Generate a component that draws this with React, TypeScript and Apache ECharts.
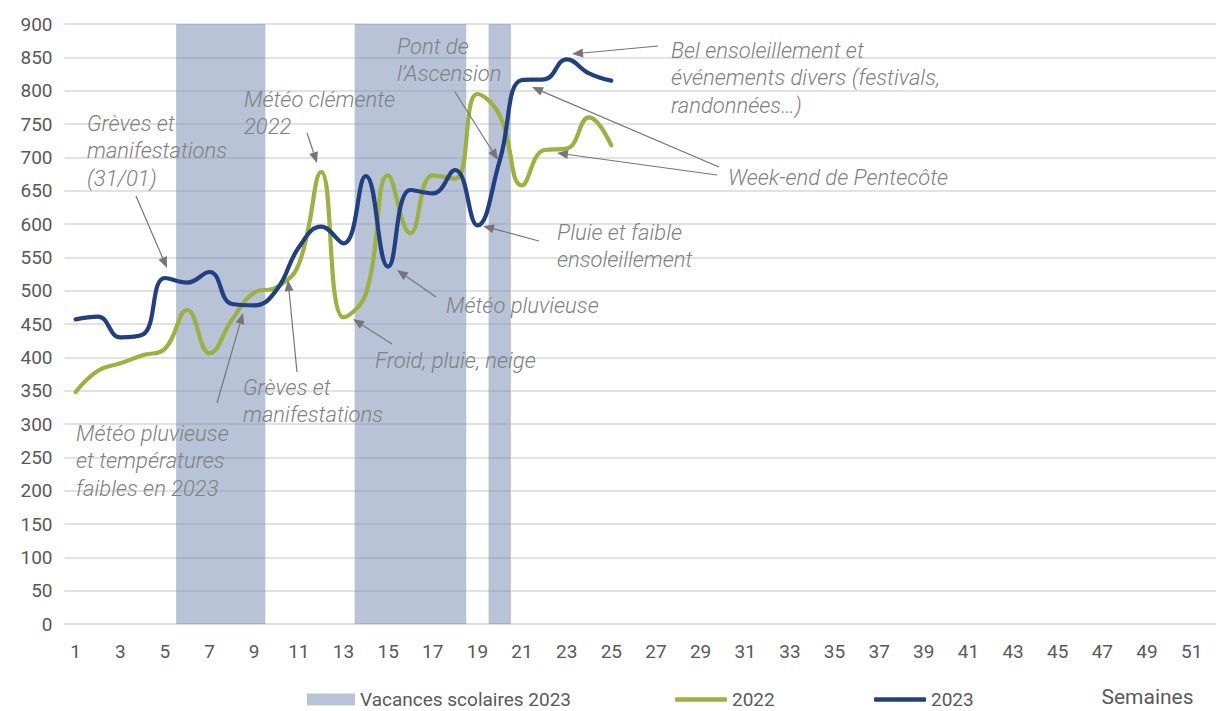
import React, { useEffect, useRef } from "react";
import * as echarts from "echarts";

// ---- Data ----
const weeks: string[] = Array.from({ length: 52 }, (_, i) => String(i + 1));
// school holiday periods 2023: [first week, last week]
const vacationPeriods: number[][] = [
  [6, 9],
  [14, 18],
  [20, 20],
];
const vacationLevel = 900;
const values2022 = [348, 380, 391, 403, 413, 471, 406, 456, 497, 505, 540, 678, 460, 495, 673, 586, 673, 668, 795, 763, 658, 711, 713, 760, 718];
const values2023 = [457, 461, 430, 434, 519, 512, 528, 480, 478, 501, 565, 596, 571, 672, 536, 651, 646, 681, 598, 695, 816, 817, 847, 826, 815];
const yMin = 0;
const yMax = 900;
const yStep = 50;
const seriesNames = ["Vacances scolaires 2023", "2022", "2023"];

// ---- Annotation layout (text first-line centre, arrows tail->head) ----
const notes: { lines: string[]; x: number; y: number; arrows: number[][] }[] = [
  { lines: ["Grèves et", "manifestations", "(31/01)"], x: 87, y: 123, arrows: [[136, 196, 167, 268]] },
  { lines: ["Météo clémente", "2022"], x: 244, y: 99, arrows: [[307, 133, 317, 163]] },
  { lines: ["Pont de", "l’Ascension"], x: 397, y: 46, arrows: [[455, 92, 498, 160]] },
  { lines: ["Bel ensoleillement et", "événements divers (festivals,", "randonnées…)"], x: 671, y: 50, arrows: [[658, 46, 572, 54]] },
  { lines: ["Week-end de Pentecôte"], x: 728, y: 177, arrows: [[719, 167, 532, 87], [717, 175, 557, 153]] },
  { lines: ["Pluie et faible", "ensoleillement"], x: 557, y: 232, arrows: [[539, 241, 483, 226]] },
  { lines: ["Météo pluvieuse"], x: 446, y: 305, arrows: [[436, 297, 397, 270]] },
  { lines: ["Froid, pluie, neige"], x: 375, y: 360, arrows: [[392, 344, 353, 319]] },
  { lines: ["Grèves et", "manifestations"], x: 243, y: 387, arrows: [[297, 372, 288, 280]] },
  { lines: ["Météo pluvieuse", "et températures", "faibles en 2023"], x: 76, y: 433, arrows: [[217, 403, 243, 313]] },
];

const LINE_H = 27.5;
const ARROW_COLOR = "#767676";
const VAC_COLOR = "rgba(115,135,178,0.5)";

function buildGraphics() {
  const els: any[] = [];
  notes.forEach((n) => {
    els.push({
      type: "text",
      z: 100,
      x: n.x,
      y: n.y - LINE_H / 2,
      style: {
        text: n.lines.join("\n"),
        fill: "#808080",
        fontFamily: "Roboto",
        fontStyle: "italic",
        fontWeight: 300,
        fontSize: 22,
        lineHeight: LINE_H,
        align: "left",
        verticalAlign: "top",
      },
    });
    n.arrows.forEach(([x1, y1, x2, y2]) => {
      const dx = x2 - x1;
      const dy = y2 - y1;
      const len = Math.sqrt(dx * dx + dy * dy);
      const ux = dx / len;
      const uy = dy / len;
      const L = 11;
      const W = 4.5;
      const bx = x2 - ux * L;
      const by = y2 - uy * L;
      els.push({
        type: "line",
        z: 100,
        shape: { x1, y1, x2: bx, y2: by },
        style: { stroke: ARROW_COLOR, lineWidth: 1.2 },
      });
      els.push({
        type: "polygon",
        z: 100,
        shape: {
          points: [
            [x2, y2],
            [bx - uy * W, by + ux * W],
            [bx + uy * W, by - ux * W],
          ],
        },
        style: { fill: ARROW_COLOR },
      });
    });
  });
  els.push({
    type: "text",
    z: 100,
    x: 1147.5,
    y: 696.5,
    style: {
      text: "Semaines",
      fill: "#595959",
      fontFamily: "Roboto",
      fontSize: 21,
      align: "center",
      verticalAlign: "middle",
    },
  });
  return els;
}

export default function App() {
  const ref = useRef<HTMLDivElement>(null);

  useEffect(() => {
    if (!ref.current) return;
    const chart = echarts.init(ref.current, undefined, { renderer: "svg" });
    const vacationData = vacationPeriods.map(([s, e]) => [s - 1, e - 1, vacationLevel]);
    const legendText = { color: "#595959", fontFamily: "Roboto", fontSize: 19 };
    chart.setOption({
      animation: false,
      backgroundColor: "#ffffff",
      textStyle: { fontFamily: "Roboto" },
      grid: { left: 64.5, top: 24, width: 1160.6, height: 600, containLabel: false },
      legend: [
        {
          data: [{ name: seriesNames[0], icon: "rect" }],
          left: 307,
          top: 690,
          padding: 0,
          itemWidth: 48,
          itemHeight: 12,
          itemGap: 0,
          textStyle: legendText,
        },
        {
          data: [{ name: seriesNames[1], icon: "roundRect", itemStyle: { color: "#9cb13e" } }],
          left: 675,
          top: 690,
          padding: 0,
          itemWidth: 52,
          itemHeight: 4.5,
          textStyle: legendText,
        },
        {
          data: [{ name: seriesNames[2], icon: "roundRect", itemStyle: { color: "#213f83" } }],
          left: 874,
          top: 690,
          padding: 0,
          itemWidth: 52,
          itemHeight: 4.5,
          textStyle: legendText,
        },
      ],
      xAxis: {
        type: "category",
        data: weeks,
        boundaryGap: true,
        axisLine: { show: true, lineStyle: { color: "#d9d9d9", width: 1.5 } },
        axisTick: { show: false },
        axisLabel: { interval: 1, color: "#595959", fontSize: 19, fontFamily: "Roboto", margin: 18 },
        splitLine: { show: false },
      },
      yAxis: {
        type: "value",
        min: yMin,
        max: yMax,
        interval: yStep,
        axisLine: { show: false },
        axisTick: { show: false },
        axisLabel: { color: "#595959", fontSize: 19, fontFamily: "Roboto", margin: 12 },
        splitLine: { show: true, lineStyle: { color: "#d9d9d9", width: 1.5 } },
      },
      series: [
        {
          name: seriesNames[0],
          type: "custom",
          data: vacationData,
          encode: { x: [0, 1], y: 2 },
          itemStyle: { color: VAC_COLOR },
          z: 1,
          renderItem: (params: any, api: any) => {
            const s = api.value(0);
            const e = api.value(1);
            const top = api.coord([s, api.value(2)]);
            const bottom = api.coord([s, 0]);
            const end = api.coord([e, 0]);
            const bw = api.size([1, 0])[0];
            return {
              type: "rect",
              shape: {
                x: top[0] - bw / 2,
                y: top[1],
                width: end[0] - top[0] + bw,
                height: bottom[1] - top[1],
              },
              style: { fill: VAC_COLOR },
            };
          },
        },
        {
          name: seriesNames[1],
          type: "line",
          data: values2022,
          smooth: 0.45,
          symbol: "none",
          showSymbol: false,
          lineStyle: { color: "#9cb13e", width: 4.2, cap: "round", join: "round" },
          itemStyle: { color: "#9cb13e" },
          z: 3,
        },
        {
          name: seriesNames[2],
          type: "line",
          data: values2023,
          smooth: 0.45,
          symbol: "none",
          showSymbol: false,
          lineStyle: { color: "#213f83", width: 4.2, cap: "round", join: "round" },
          itemStyle: { color: "#213f83" },
          z: 4,
        },
      ],
      graphic: buildGraphics(),
    });
    return () => chart.dispose();
  }, []);

  return (
    <div
      style={{ position: "fixed", left: 0, top: 0, width: 1216, height: 711, overflow: "hidden", background: "#fff" }}
    >
      <div ref={ref} style={{ width: 1232, height: 711 }} />
    </div>
  );
}
